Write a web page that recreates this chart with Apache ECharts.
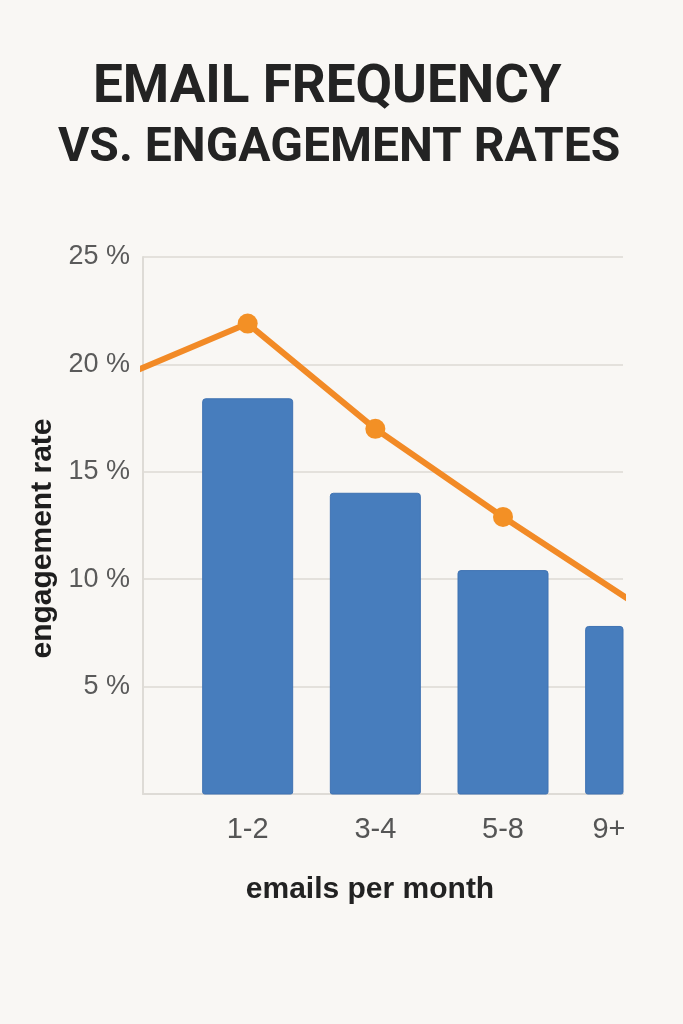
<!DOCTYPE html>
<html>
<head>
<meta charset="utf-8">
<title>Email frequency vs. engagement rates</title>
<script src="https://cdn.jsdelivr.net/npm/echarts@6/dist/echarts.min.js"></script>
<style>
  html, body { margin: 0; padding: 0; background: #f9f7f4; }
  #main { width: 683px; height: 1024px; }
</style>
</head>
<body>
<div id="main"></div>
<script>
// categories on the x axis (placed at positions 1..4)
var categories = ['1-2', '3-4', '5-8', '9+'];
// bar heights, in percent
var barValues = [18.4, 14.0, 10.4, 7.8];
// engagement line; the first point sits left of "1-2" and runs in from the edge
var lineValues = [19.4, 21.9, 17.0, 12.9, 9.0];
// y tick labels
var yTicks = [5, 10, 15, 20, 25];

var myChart = echarts.init(document.getElementById('main'));

var barData = barValues.map(function (v, i) { return [i + 1, v]; });
var lineData = lineValues.map(function (v, i) { return [i, v]; });

var font = '"Liberation Sans", Arial, sans-serif';

// bars drawn as custom rects so the last one is cut at the grid edge
function renderBar(params, api) {
  var x = api.value(0);
  var top = api.coord([x, api.value(1)]);
  var base = api.coord([x, 0]);
  var w = api.size([0.705, 0])[0];
  var rect = echarts.graphic.clipRectByRect({
    x: top[0] - w / 2,
    y: top[1],
    width: w,
    height: base[1] - top[1]
  }, {
    x: params.coordSys.x,
    y: params.coordSys.y,
    width: params.coordSys.width,
    height: params.coordSys.height
  });
  if (!rect) return;
  rect.r = [3, 3, 2, 2];
  return {
    type: 'rect',
    shape: rect,
    style: { fill: '#477dbd', stroke: '#3f72b2', lineWidth: 1 }
  };
}

option = {
  backgroundColor: '#f9f7f4',
  title: [
    {
      text: 'EMAIL FREQUENCY',
      left: 88,
      top: 58,
      textStyle: {
        fontFamily: 'Roboto, sans-serif',
        fontWeight: 'bold',
        fontSize: 53,
        lineHeight: 52,
        color: '#232323'
      }
    },
    {
      text: 'VS. ENGAGEMENT RATES',
      left: 53,
      top: 119,
      textStyle: {
        fontFamily: 'Roboto, sans-serif',
        fontWeight: 'bold',
        fontSize: 48,
        lineHeight: 49,
        color: '#232323'
      }
    }
  ],
  grid: {
    left: 143,
    right: 60,
    top: 257,
    bottom: 230
  },
  xAxis: {
    type: 'value',
    min: 0.18,
    max: 3.94,
    name: 'emails per month',
    nameLocation: 'middle',
    nameGap: 81,
    nameTextStyle: {
      fontFamily: font,
      fontWeight: 'bold',
      fontSize: 30,
      color: '#222',
      padding: [0, 26, 0, 0]
    },
    axisLine: { show: true, lineStyle: { color: '#dedbd6', width: 2 } },
    axisTick: { show: false },
    splitLine: { show: false },
    axisLabel: {
      customValues: [1, 2, 3, 3.83],
      margin: 21,
      fontFamily: font,
      fontSize: 29,
      color: '#555',
      formatter: function (v) {
        return categories[Math.round(v) - 1] || '';
      }
    }
  },
  yAxis: {
    type: 'value',
    min: 0,
    max: 25,
    interval: 5,
    name: 'engagement rate',
    nameLocation: 'middle',
    nameGap: 84,
    nameTextStyle: {
      fontFamily: font,
      fontWeight: 'bold',
      fontSize: 30,
      color: '#1e1e1e',
      padding: [0, 26, 0, 0]
    },
    axisLine: { show: true, lineStyle: { color: '#dedbd6', width: 2 } },
    axisTick: { show: false },
    splitLine: { lineStyle: { color: '#e4e1dc', width: 2 } },
    axisLabel: {
      margin: 13,
      fontFamily: font,
      fontSize: 27,
      color: '#5a5a5a',
      formatter: function (v) {
        return yTicks.indexOf(v) >= 0 ? v + ' %' : '';
      }
    }
  },
  series: [
    {
      name: 'share',
      type: 'custom',
      data: barData,
      encode: { x: 0, y: 1 },
      renderItem: renderBar,
      z: 2
    },
    {
      name: 'engagement',
      type: 'line',
      data: lineData,
      clip: true,
      symbol: 'circle',
      symbolSize: 20,
      lineStyle: { color: '#f28a26', width: 6 },
      itemStyle: { color: '#f39025' },
      z: 3
    }
  ]
};

myChart.setOption(option);
</script>
</body>
</html>
